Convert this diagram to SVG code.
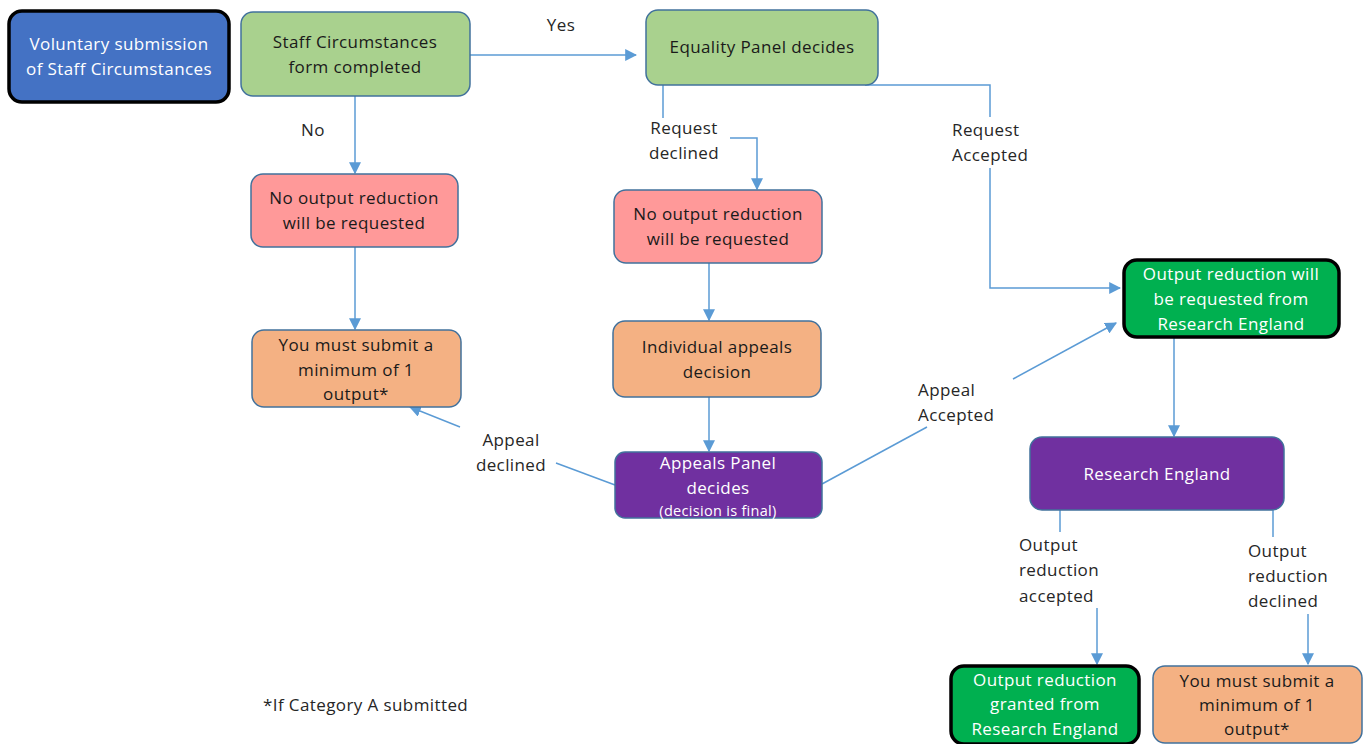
<svg xmlns="http://www.w3.org/2000/svg" width="1371" height="744" viewBox="0 0 1371 744">
<style>
text{font-family:"Open Sans","Liberation Sans",sans-serif;font-size:17px;letter-spacing:0.4px;text-anchor:middle}
.lbl{fill:#262626}
.dark{fill:#1a1a1a}
.wht{fill:#ffffff}
.box{stroke:#41719C;stroke-width:1.5}
.bold{stroke:#000;stroke-width:3.5}
.con{fill:none;stroke:#5B9BD5;stroke-width:1.5}
.blue{fill:#4472C4}.lg{fill:#A9D18E}.pink{fill:#FF9999}.org{fill:#F4B183}.pur{fill:#7030A0}.grn{fill:#00B050}
</style>
<defs>
<marker id="ah" viewBox="0 0 10 10" refX="9" refY="5" markerWidth="12" markerHeight="12" markerUnits="userSpaceOnUse" orient="auto">
<path d="M0,0 L10,5 L0,10 z" fill="#5B9BD5"/>
</marker>
</defs>
<rect width="1371" height="744" fill="#fff"/>
<g id="connectors">
<path class="con" d="M470,55 H636" marker-end="url(#ah)"/>
<path class="con" d="M355,96 V173" marker-end="url(#ah)"/>
<path class="con" d="M355,247 V329" marker-end="url(#ah)"/>
<path class="con" d="M663,85 V118"/>
<path class="con" d="M730,138 H757 V189" marker-end="url(#ah)"/>
<path class="con" d="M865,85 H990 V117"/>
<path class="con" d="M990,168 V288 H1120" marker-end="url(#ah)"/>
<path class="con" d="M709,263 V320" marker-end="url(#ah)"/>
<path class="con" d="M709,397 V451" marker-end="url(#ah)"/>
<path class="con" d="M615,485 L556,463"/>
<path class="con" d="M460,427 L410,407" marker-end="url(#ah)"/>
<path class="con" d="M822,484 L927,427"/>
<path class="con" d="M1013,379 L1116,323" marker-end="url(#ah)"/>
<path class="con" d="M1174,338 V436" marker-end="url(#ah)"/>
<path class="con" d="M1060,510 V532"/>
<path class="con" d="M1097,608 V664" marker-end="url(#ah)"/>
<path class="con" d="M1273,510 V537"/>
<path class="con" d="M1308,614 V664" marker-end="url(#ah)"/>
</g>
<g id="labels">
<text class="lbl" x="561" y="31">Yes</text>
<text class="lbl" x="313" y="136">No</text>
<text class="lbl" x="684" y="134">Request</text>
<text class="lbl" x="684" y="159">declined</text>
<text class="lbl" x="952" y="136" style="text-anchor:start">Request</text>
<text class="lbl" x="952" y="161" style="text-anchor:start">Accepted</text>
<text class="lbl" x="511" y="446">Appeal</text>
<text class="lbl" x="511" y="471">declined</text>
<text class="lbl" x="918" y="396" style="text-anchor:start">Appeal</text>
<text class="lbl" x="918" y="421" style="text-anchor:start">Accepted</text>
<text class="lbl" x="1019" y="551" style="text-anchor:start">Output</text>
<text class="lbl" x="1019" y="576" style="text-anchor:start">reduction</text>
<text class="lbl" x="1019" y="602" style="text-anchor:start">accepted</text>
<text class="lbl" x="1248" y="557" style="text-anchor:start">Output</text>
<text class="lbl" x="1248" y="582" style="text-anchor:start">reduction</text>
<text class="lbl" x="1248" y="607" style="text-anchor:start">declined</text>
<text class="lbl" x="263" y="711" style="text-anchor:start">*If Category A submitted</text>
</g>
<g id="n1">
<rect class="blue bold" x="9" y="11" width="220" height="91" rx="13"/>
<text class="wht" x="119" y="50">Voluntary submission</text>
<text class="wht" x="119" y="75">of Staff Circumstances</text>
</g>
<g id="n2">
<rect class="lg box" x="241" y="12" width="229" height="84" rx="12"/>
<text class="dark" x="355" y="48">Staff Circumstances</text>
<text class="dark" x="355" y="73">form completed</text>
</g>
<g id="n3">
<rect class="lg box" x="646" y="10" width="232" height="75" rx="12"/>
<text class="dark" x="762" y="53">Equality Panel decides</text>
</g>
<g id="n4">
<rect class="pink box" x="251" y="174" width="207" height="73" rx="12"/>
<text class="dark" x="354" y="204">No output reduction</text>
<text class="dark" x="354" y="229">will be requested</text>
</g>
<g id="n5">
<rect class="org box" x="252" y="330" width="209" height="77" rx="12"/>
<text class="dark" x="356" y="351">You must submit a</text>
<text class="dark" x="356" y="376">minimum of 1</text>
<text class="dark" x="356" y="400">output*</text>
</g>
<g id="n6">
<rect class="pink box" x="614" y="190" width="208" height="73" rx="12"/>
<text class="dark" x="718" y="220">No output reduction</text>
<text class="dark" x="718" y="245">will be requested</text>
</g>
<g id="n7">
<rect class="org box" x="613" y="321" width="208" height="76" rx="12"/>
<text class="dark" x="717" y="353">Individual appeals</text>
<text class="dark" x="717" y="378">decision</text>
</g>
<g id="n8">
<rect class="pur box" x="615" y="452" width="207" height="66" rx="10"/>
<text class="wht" x="718" y="469">Appeals  Panel</text>
<text class="wht" x="718" y="494">decides</text>
<text class="wht" x="718" y="516" style="font-size:14.5px;letter-spacing:0.3px">(decision is final)</text>
</g>
<g id="n9">
<rect class="grn bold" x="1124" y="260" width="215" height="77" rx="13"/>
<text class="wht" x="1231" y="280">Output reduction will</text>
<text class="wht" x="1231" y="305">be requested from</text>
<text class="wht" x="1231" y="330">Research England</text>
</g>
<g id="n10">
<rect class="pur box" x="1030" y="437" width="254" height="73" rx="12"/>
<text class="wht" x="1157" y="480">Research England</text>
</g>
<g id="n11">
<rect class="grn bold" x="951" y="666" width="188" height="78" rx="13"/>
<text class="wht" x="1045" y="686">Output reduction</text>
<text class="wht" x="1045" y="710">granted from</text>
<text class="wht" x="1045" y="735">Research England</text>
</g>
<g id="n12">
<rect class="org box" x="1153" y="666" width="209" height="77" rx="12"/>
<text class="dark" x="1257" y="687">You must submit a</text>
<text class="dark" x="1257" y="711">minimum of 1</text>
<text class="dark" x="1257" y="735">output*</text>
</g>
</svg>
